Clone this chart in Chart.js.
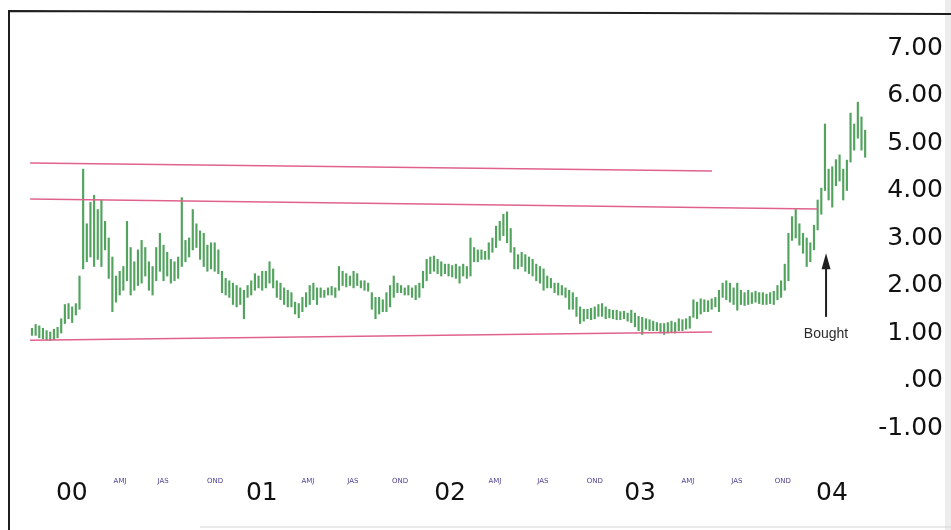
<!DOCTYPE html>
<html>
<head>
<meta charset="utf-8">
<script src="https://cdn.jsdelivr.net/npm/chart.js@4.4.1/dist/chart.umd.min.js"></script>
<style>
  html, body { margin: 0; padding: 0; background: #fff; }
</style>
</head>
<body>
<canvas id="priceChart" width="951" height="530"></canvas>
<script>
// weekly bars, index 0 = first week on the chart (late 1999)
const weeklyHigh = [
  1.10, 1.18, 1.15, 1.10, 1.05, 1.02, 1.08, 1.12, 1.30, 1.60,
  1.62, 1.55, 1.62, 2.20, 4.45, 3.30, 3.75, 3.90, 3.60, 3.80,
  3.35, 3.00, 2.60, 2.20, 2.30, 2.40, 3.35, 2.80, 2.50, 2.75,
  2.95, 2.80, 2.50, 2.40, 2.80, 3.10, 2.85, 2.70, 2.55, 2.50,
  2.60, 3.85, 2.95, 3.00, 3.60, 3.30, 3.15, 3.10, 2.85, 2.90,
  2.90, 2.75, 2.30, 2.15, 2.10, 2.05, 2.00, 1.95, 1.90, 2.00,
  2.10, 2.25, 2.20, 2.30, 2.30, 2.50, 2.35, 2.10, 2.05, 1.95,
  1.90, 1.85, 1.65, 1.62, 1.75, 1.85, 2.00, 2.05, 1.95, 1.95,
  1.90, 1.95, 1.98, 1.95, 2.40, 2.30, 2.25, 2.20, 2.30, 2.25,
  2.10, 2.10, 2.05, 1.85, 1.75, 1.75, 1.70, 1.85, 2.00, 2.20,
  2.05, 2.00, 1.95, 2.00, 1.95, 2.00, 2.05, 2.30, 2.55, 2.60,
  2.62, 2.55, 2.50, 2.45, 2.45, 2.42, 2.45, 2.40, 2.45, 2.40,
  3.00, 2.80, 2.75, 2.75, 2.72, 2.90, 3.00, 3.25, 3.35, 3.50,
  3.55, 3.20, 2.80, 2.65, 2.70, 2.65, 2.60, 2.55, 2.45, 2.40,
  2.35, 2.20, 2.15, 2.05, 2.05, 2.00, 1.95, 1.90, 1.85, 1.75,
  1.55, 1.50, 1.50, 1.52, 1.55, 1.60, 1.62, 1.55, 1.50, 1.48,
  1.48, 1.45, 1.46, 1.42, 1.48, 1.42, 1.35, 1.33, 1.30, 1.28,
  1.25, 1.22, 1.20, 1.20, 1.22, 1.25, 1.22, 1.30, 1.28, 1.30,
  1.35, 1.70, 1.65, 1.72, 1.70, 1.68, 1.72, 1.75, 1.90, 2.05,
  2.10, 2.05, 1.95, 2.05, 1.90, 1.85, 1.90, 1.85, 1.88, 1.85,
  1.85, 1.82, 1.85, 1.88, 2.00, 2.10, 2.45, 3.10, 3.45, 3.60,
  3.30, 3.10, 3.00, 2.90, 3.27, 3.80, 4.05, 5.40, 4.45, 4.50,
  4.65, 4.75, 4.45, 4.64, 5.63, 5.40, 5.86, 5.55, 5.27
];
const weeklyLow = [
  0.95, 0.95, 0.90, 0.88, 0.85, 0.84, 0.86, 0.90, 1.00, 1.20,
  1.30, 1.22, 1.38, 1.50, 2.35, 2.50, 2.60, 2.40, 2.55, 2.40,
  2.75, 2.15, 1.45, 1.65, 1.80, 1.90, 2.10, 1.80, 1.90, 2.00,
  2.05, 2.20, 1.90, 1.80, 2.10, 2.30, 2.10, 2.20, 2.05, 2.10,
  2.15, 2.40, 2.50, 2.60, 2.75, 2.80, 2.55, 2.40, 2.30, 2.35,
  2.30, 2.25, 1.85, 1.80, 1.75, 1.60, 1.55, 1.60, 1.30, 1.75,
  1.80, 1.90, 1.95, 1.90, 1.95, 2.05, 1.95, 1.75, 1.70, 1.60,
  1.55, 1.55, 1.40, 1.32, 1.45, 1.55, 1.60, 1.70, 1.60, 1.75,
  1.75, 1.80, 1.80, 1.75, 1.90, 2.00, 1.97, 2.00, 1.95, 2.00,
  1.95, 1.90, 1.88, 1.50, 1.30, 1.40, 1.45, 1.45, 1.55, 1.75,
  1.85, 1.85, 1.80, 1.80, 1.75, 1.70, 1.75, 1.95, 2.10, 2.25,
  2.30, 2.25, 2.20, 2.25, 2.20, 2.18, 2.15, 2.05, 2.20, 2.15,
  2.20, 2.50, 2.50, 2.55, 2.55, 2.55, 2.70, 2.80, 2.95, 3.05,
  2.90, 2.70, 2.35, 2.35, 2.40, 2.30, 2.25, 2.20, 2.10, 2.05,
  1.90, 1.95, 1.95, 1.85, 1.80, 1.80, 1.75, 1.50, 1.50, 1.35,
  1.20, 1.25, 1.30, 1.28, 1.30, 1.35, 1.35, 1.30, 1.32, 1.30,
  1.28, 1.28, 1.30, 1.25, 1.22, 1.13, 1.05, 0.97, 1.08, 1.05,
  1.05, 1.05, 1.00, 0.97, 1.00, 1.02, 1.00, 1.05, 1.05, 1.08,
  1.10, 1.33, 1.30, 1.40, 1.45, 1.45, 1.50, 1.55, 1.45, 1.75,
  1.70, 1.65, 1.60, 1.48, 1.60, 1.58, 1.60, 1.62, 1.65, 1.62,
  1.60, 1.60, 1.62, 1.60, 1.70, 1.75, 1.90, 2.10, 2.95, 3.00,
  2.85, 2.68, 2.40, 2.50, 2.75, 3.17, 3.50, 4.00, 3.80, 3.65,
  4.10, 4.20, 3.80, 4.00, 4.60, 4.85, 5.10, 4.85, 4.70
];

// hand-drawn trend lines: [week, price] at each end
const upperLine = [[-0.5, 4.58], [186.1, 4.41]];
const middleLine = [[-0.5, 3.82], [214.9, 3.61]];
const lowerLine = [[-0.5, 0.85], [186.1, 1.02]];

// x axis labels (week positions) and y ticks
const xTickValues = [10.9, 24.1, 35.9, 50.1, 62.9, 75.5, 87.8, 100.7, 114.4, 126.7, 139.8, 154.0, 166.4, 179.5, 192.9, 205.5, 218.9];
const xTickLabels = ['00', 'AMJ', 'JAS', 'OND', '01', 'AMJ', 'JAS', 'OND', '02', 'AMJ', 'JAS', 'OND', '03', 'AMJ', 'JAS', 'OND', '04'];
const yTickValues = [-1, 0, 1, 2, 3, 4, 5, 6, 7];

// "Bought" arrow
const boughtAt = { week: 217.3, tip: 2.68, tail: 1.34, text: 0.98 };

const AXIS_FONT = "'DejaVu Sans', sans-serif";

const isYearLabel = (i) => /^\d\d$/.test(xTickLabels[i] || '');

const toPoints = (pairs) => pairs.map(p => ({ x: p[0], y: p[1] }));

const trendLine = (pairs) => ({
    type: 'line',
    data: toPoints(pairs),
    borderColor: '#e0628c',
    borderWidth: 1.5,
    pointRadius: 0,
    fill: false,
    tension: 0
});

const pageFrame = {
    id: 'pageFrame',
    beforeDraw: (chart) => {
        const {ctx, width, height} = chart;
        ctx.save();
        ctx.fillStyle = '#ffffff';
        ctx.fillRect(0, 0, width, height);
        ctx.fillStyle = '#ededed';
        ctx.fillRect(width - 6, 0, 6, height);
        ctx.strokeStyle = '#1e1e1e';
        ctx.lineWidth = 2;
        ctx.beginPath();
        ctx.moveTo(9, height);
        ctx.lineTo(9, 11);
        ctx.lineTo(width, 14);
        ctx.stroke();
        ctx.strokeStyle = '#d4d4d4';
        ctx.lineWidth = 1;
        ctx.beginPath();
        ctx.moveTo(200, height - 3);
        ctx.lineTo(width, height - 3);
        ctx.stroke();
        ctx.restore();
    }
};

const boughtNote = {
    id: 'boughtNote',
    afterDatasetsDraw: (chart) => {
        const {ctx} = chart;
        const xs = chart.scales.x, ys = chart.scales.y;
        const px = xs.getPixelForValue(boughtAt.week);
        const tip = ys.getPixelForValue(boughtAt.tip);
        const tail = ys.getPixelForValue(boughtAt.tail);
        ctx.save();
        ctx.strokeStyle = '#1f1f1f';
        ctx.fillStyle = '#1f1f1f';
        ctx.lineWidth = 2;
        ctx.beginPath();
        ctx.moveTo(px, tail);
        ctx.lineTo(px, tip + 12);
        ctx.stroke();
        ctx.beginPath();
        ctx.moveTo(px, tip);
        ctx.lineTo(px - 4.5, tip + 16);
        ctx.lineTo(px + 4.5, tip + 16);
        ctx.closePath();
        ctx.fill();
        ctx.fillStyle = '#2b2b2b';
        ctx.font = "14px 'Liberation Sans', Arial, sans-serif";
        ctx.textAlign = 'center';
        ctx.textBaseline = 'middle';
        ctx.fillText('Bought', px, ys.getPixelForValue(boughtAt.text));
        ctx.restore();
    }
};

new Chart(document.getElementById('priceChart'), {
    type: 'bar',
    data: {
        datasets: [
            {
                data: weeklyHigh.map((h, i) => ({ x: i, y: [weeklyLow[i], h] })),
                backgroundColor: '#52a35e',
                borderWidth: 0,
                barThickness: 1.5,
                order: 2
            },
            trendLine(upperLine),
            trendLine(middleLine),
            trendLine(lowerLine)
        ]
    },
    options: {
        responsive: false,
        animation: false,
        layout: { padding: { left: 20, top: 29, right: 8, bottom: 0 } },
        plugins: {
            legend: { display: false },
            tooltip: { enabled: false }
        },
        scales: {
            x: {
                type: 'linear',
                offset: false,
                min: -3.28,
                max: 229.6,
                grid: { display: false, drawTicks: false },
                border: { display: false },
                afterBuildTicks: (scale) => {
                    scale.ticks = xTickValues.map(v => ({ value: v }));
                },
                afterFit: (scale) => { scale.height = 73; },
                ticks: {
                    autoSkip: false,
                    maxRotation: 0,
                    padding: 20,
                    callback: (value, index) => xTickLabels[index],
                    color: (ctx) => isYearLabel(ctx.index) ? '#111111' : '#4a3f93',
                    font: (ctx) => isYearLabel(ctx.index)
                        ? { family: AXIS_FONT, size: 25, lineHeight: 1.3 }
                        : { family: AXIS_FONT, size: 7, lineHeight: 1.2 }
                }
            },
            y: {
                position: 'right',
                min: -1.61,
                max: 7.4,
                grid: { display: false, drawTicks: false },
                border: { display: false },
                afterBuildTicks: (scale) => {
                    scale.ticks = yTickValues.map(v => ({ value: v }));
                },
                afterFit: (scale) => { scale.width = 72; },
                ticks: {
                    crossAlign: 'far',
                    padding: 5,
                    color: '#111111',
                    font: { family: AXIS_FONT, size: 25 },
                    callback: (value) => value === 0 ? '.00' : value.toFixed(2)
                }
            }
        }
    },
    plugins: [pageFrame, boughtNote]
});
</script>
</body>
</html>
